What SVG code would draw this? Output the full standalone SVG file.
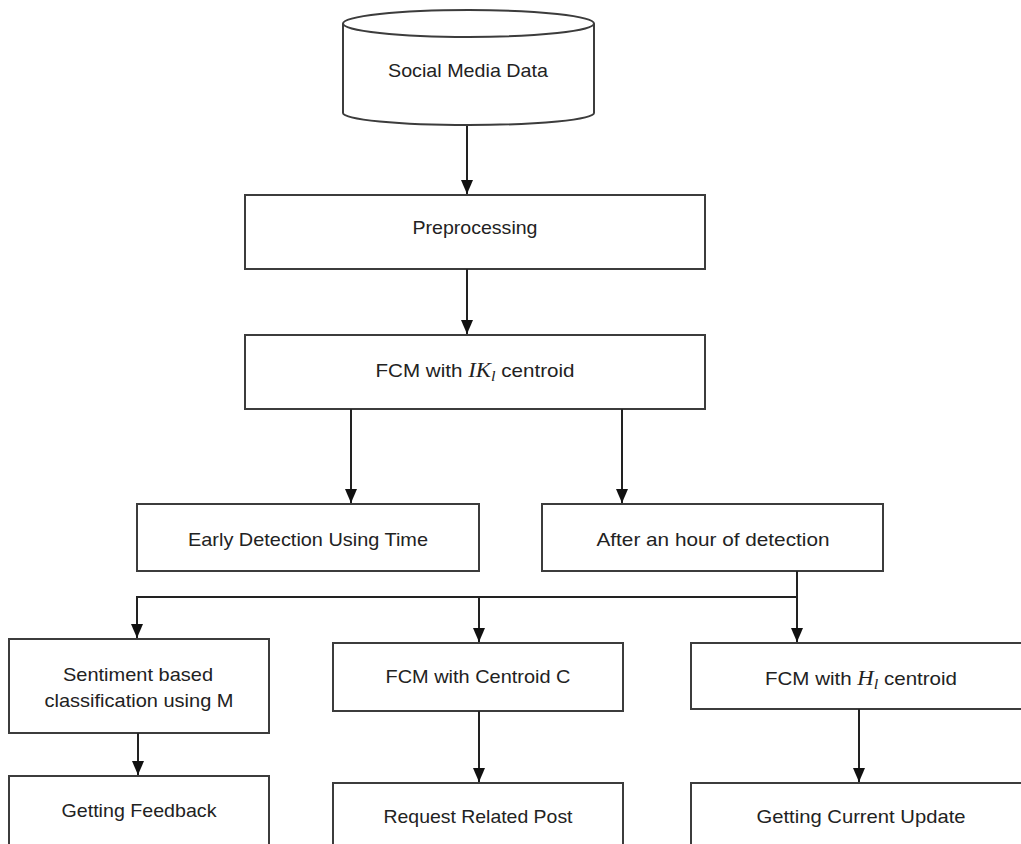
<svg xmlns="http://www.w3.org/2000/svg" width="1021" height="844" viewBox="0 0 1021 844">
<style>
.box{fill:#fff;stroke:#3c3c3c;stroke-width:2}
.t{font-family:"Liberation Sans",Arial,sans-serif;font-size:19px;fill:#222;text-anchor:middle}
.m{font-family:"Liberation Serif","Times New Roman",serif;font-style:italic}
.c{fill:none;stroke:#222;stroke-width:2}
</style>
<defs>
<marker id="ah" markerUnits="userSpaceOnUse" markerWidth="14" markerHeight="12" viewBox="0 0 14 12" refX="14" refY="6" orient="auto">
<path d="M0,0 L14,6 L0,12 z" fill="#111"/>
</marker>
</defs>
<rect width="1021" height="844" fill="#fff"/>
<g id="n-social">
<path class="box" d="M343,23.5 L343,113 A125.5,12 0 0 0 594,113 L594,23.5"/>
<ellipse class="box" cx="468.5" cy="23.5" rx="125.5" ry="13.5"/>
<text class="t" x="468" y="77" textLength="160" lengthAdjust="spacingAndGlyphs">Social Media Data</text>
</g>
<g id="n-pre">
<rect class="box" x="245" y="195" width="460" height="74"/>
<text class="t" x="475" y="234" textLength="125" lengthAdjust="spacingAndGlyphs">Preprocessing</text>
</g>
<g id="n-fcm">
<rect class="box" x="245" y="335" width="460" height="74"/>
<text class="t" x="475" y="377" textLength="199" lengthAdjust="spacingAndGlyphs">FCM with <tspan class="m" font-size="21">IK</tspan><tspan class="m" font-size="15" dy="4">l</tspan><tspan dy="-4"> centroid</tspan></text>
</g>
<g id="n-early">
<rect class="box" x="137" y="504" width="342" height="67"/>
<text class="t" x="308" y="546" textLength="240" lengthAdjust="spacingAndGlyphs">Early Detection Using Time</text>
</g>
<g id="n-after">
<rect class="box" x="542" y="504" width="341" height="67"/>
<text class="t" x="713" y="546" textLength="233" lengthAdjust="spacingAndGlyphs">After an hour of detection</text>
</g>
<g id="n-senti">
<rect class="box" x="9" y="639" width="260" height="94"/>
<text class="t" x="138" y="681" textLength="150" lengthAdjust="spacingAndGlyphs">Sentiment based</text>
<text class="t" x="139" y="707" textLength="189" lengthAdjust="spacingAndGlyphs">classification using M</text>
</g>
<g id="n-fcmc">
<rect class="box" x="333" y="643" width="290" height="68"/>
<text class="t" x="478" y="683" textLength="185" lengthAdjust="spacingAndGlyphs">FCM with Centroid C</text>
</g>
<g id="n-fcmh">
<rect class="box" x="691" y="643" width="345" height="66"/>
<text class="t" x="861" y="685" textLength="192" lengthAdjust="spacingAndGlyphs">FCM with <tspan class="m" font-size="21">H</tspan><tspan class="m" font-size="15" dy="4">l</tspan><tspan dy="-4"> centroid</tspan></text>
</g>
<g id="n-feedback">
<rect class="box" x="9" y="776" width="260" height="100"/>
<text class="t" x="139" y="817" textLength="155" lengthAdjust="spacingAndGlyphs">Getting Feedback</text>
</g>
<g id="n-request">
<rect class="box" x="333" y="783" width="290" height="100"/>
<text class="t" x="478" y="823" textLength="189" lengthAdjust="spacingAndGlyphs">Request Related Post</text>
</g>
<g id="n-update">
<rect class="box" x="691" y="783" width="345" height="100"/>
<text class="t" x="861" y="823" textLength="209" lengthAdjust="spacingAndGlyphs">Getting Current Update</text>
</g>
<g id="connectors">
<line class="c" x1="467" y1="126" x2="467" y2="194" marker-end="url(#ah)"/>
<line class="c" x1="467" y1="269" x2="467" y2="334" marker-end="url(#ah)"/>
<line class="c" x1="351" y1="409" x2="351" y2="503" marker-end="url(#ah)"/>
<line class="c" x1="622" y1="409" x2="622" y2="503" marker-end="url(#ah)"/>
<line class="c" x1="797" y1="571" x2="797" y2="642" marker-end="url(#ah)"/>
<polyline class="c" points="797,597 137,597 137,638" marker-end="url(#ah)"/>
<line class="c" x1="479" y1="597" x2="479" y2="642" marker-end="url(#ah)"/>
<line class="c" x1="138" y1="733" x2="138" y2="775" marker-end="url(#ah)"/>
<line class="c" x1="479" y1="711" x2="479" y2="782" marker-end="url(#ah)"/>
<line class="c" x1="859" y1="709" x2="859" y2="782" marker-end="url(#ah)"/>
</g>
</svg>
